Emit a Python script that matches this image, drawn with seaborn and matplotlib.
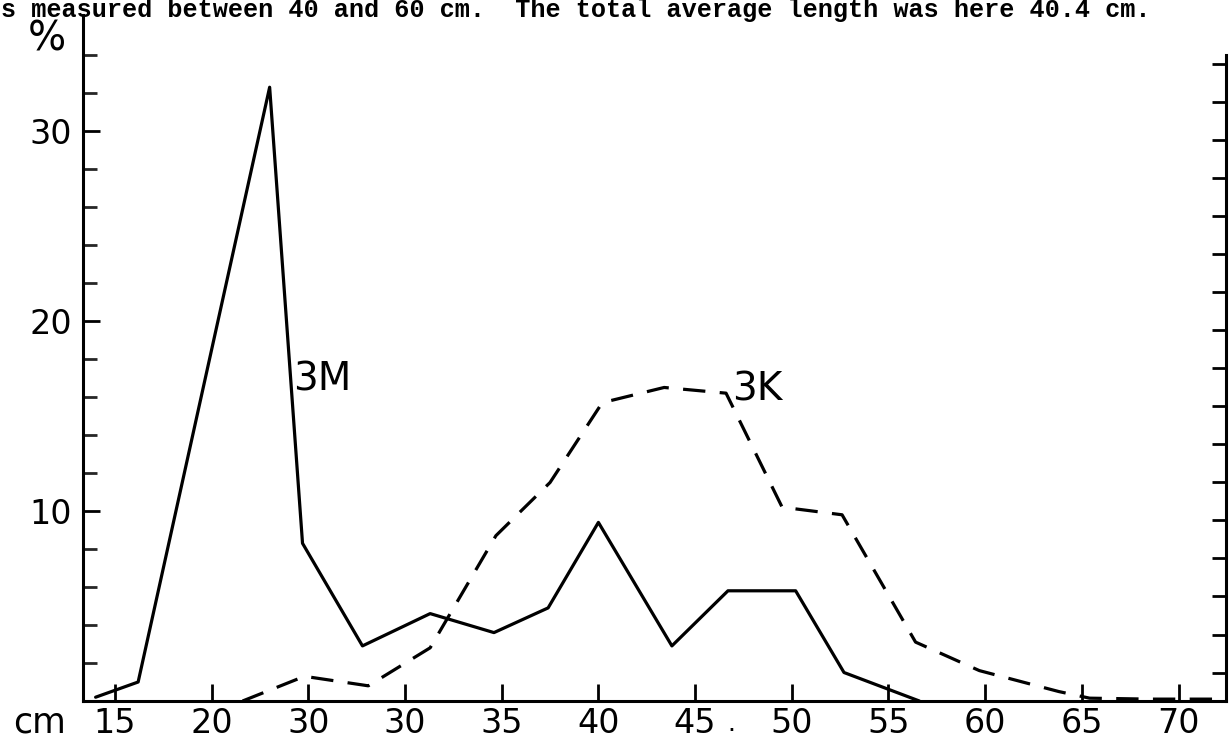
import pandas as pd
import matplotlib.pyplot as plt
import seaborn as sns

# length classes (cm) and share of fish (%)
m3_len = [14.0, 16.2, 23.0, 24.7, 27.8, 31.3, 34.6, 37.4, 40.0, 43.8, 46.7, 50.2, 52.7, 56.6]
m3_pct = [0.2, 1.0, 32.3, 8.3, 2.9, 4.6, 3.6, 4.9, 9.4, 2.9, 5.8, 5.8, 1.5, 0.0]

k3_len = [21.6, 24.8, 28.1, 31.3, 34.7, 37.5, 40.2, 43.4, 46.6, 49.5, 52.6, 56.4, 59.7, 63.8, 65.4, 68.5, 72.0]
k3_pct = [0.0, 1.3, 0.8, 2.8, 8.7, 11.5, 15.7, 16.5, 16.2, 10.2, 9.8, 3.1, 1.6, 0.5, 0.15, 0.1, 0.1]

x_ticks = [15, 20, 25, 30, 35, 40, 45, 50, 55, 60, 65, 70]
x_tick_labels = ["15", "20", "30", "30", "35", "40", "45", "50", "55", "60", "65", "70"]
y_major = [10, 20, 30]
y_minor = [2, 4, 6, 8, 12, 14, 16, 18, 22, 24, 26, 28, 32, 34]
right_ticks = [1.5, 3.5, 5.5, 7.5, 9.5, 11.5, 13.5, 15.5, 17.5, 19.5,
               21.5, 23.5, 25.5, 27.5, 29.5, 31.5, 33.5]

header = "s measured between 40 and 60 cm.  The total average length was here 40.4 cm."

df = pd.concat([
    pd.DataFrame({"cm": m3_len, "pct": m3_pct, "series": "3M"}),
    pd.DataFrame({"cm": k3_len, "pct": k3_pct, "series": "3K"}),
], ignore_index=True)

sns.set_style("ticks")
plt.rcParams["font.family"] = ["DejaVu Sans"]
plt.rcParams["text.color"] = "black"

fig = plt.figure(figsize=(12.3, 7.39), dpi=100)
ax = fig.add_axes([0.0675, 0.0514, 0.9292, 0.9283])

sns.lineplot(
    data=df,
    x="cm",
    y="pct",
    style="series",
    dashes={"3M": "", "3K": (7, 4.5)},
    color="black",
    linewidth=2.3,
    sort=False,
    estimator=None,
    legend=False,
    ax=ax
)

ax.set_xlim(13.35, 72.45)
ax.set_ylim(0, 36.1)

ax.set_xticks(x_ticks)
ax.set_xticklabels(x_tick_labels)
ax.set_yticks(y_major)
ax.set_yticklabels([str(v) for v in y_major])
ax.set_yticks(y_minor, minor=True)

ax.tick_params(axis="both", which="major", direction="in", length=12, width=2,
               labelsize=24, color="black", labelcolor="black")
ax.tick_params(axis="x", pad=4)
ax.tick_params(axis="y", pad=8)
ax.tick_params(axis="y", which="minor", direction="in", length=10, width=2)

ax.set_xlabel("")
ax.set_ylabel("")

for side in ["left", "bottom", "right"]:
    ax.spines[side].set_linewidth(2.2)
    ax.spines[side].set_color("black")
ax.spines["top"].set_visible(False)
ax.spines["right"].set_bounds(0, 34)

# right hand scale, ticks only
ax_r = ax.twinx()
ax_r.set_ylim(ax.get_ylim())
ax_r.set_yticks(right_ticks)
ax_r.set_yticklabels([])
ax_r.tick_params(axis="y", direction="in", length=10, width=2, color="black")
for side in ["left", "bottom", "top", "right"]:
    ax_r.spines[side].set_visible(False)

ax.text(24.2, 16.9, "3M", fontsize=28, va="center", ha="left", color="black")
ax.text(46.9, 16.4, "3K", fontsize=28, va="center", ha="left", color="black")

ax.text(11.5, 34.8, "%", fontsize=29, va="center", ha="center", color="black", clip_on=False)
ax.text(11.1, -1.15, "cm", fontsize=25, va="center", ha="center", color="black", clip_on=False)
ax.text(46.9, -1.2, ".", fontsize=18, va="center", ha="center", color="black", clip_on=False)

fig.text(0.001, 1 - 17 / 739, header, fontsize=18.2, family="Liberation Mono",
         fontweight="bold", va="baseline", ha="left", color="black")

fig.savefig("out.png", dpi=100)
